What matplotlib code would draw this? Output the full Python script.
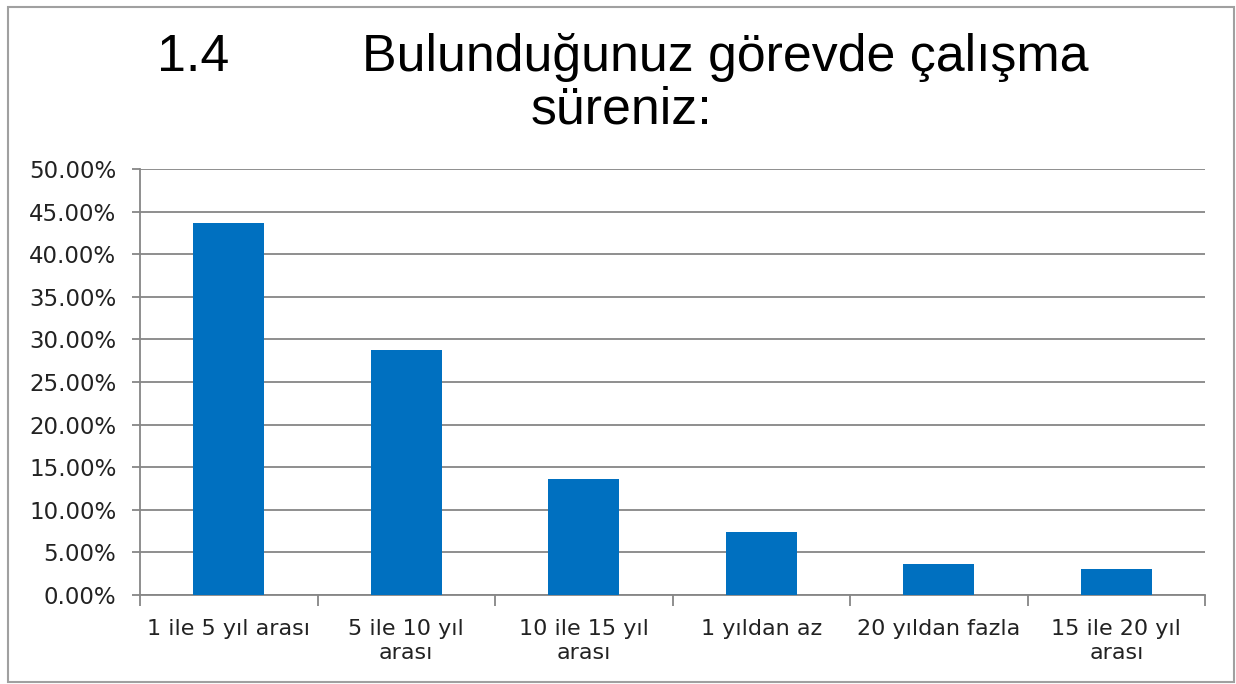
import matplotlib.pyplot as plt
from matplotlib.patches import Rectangle
from matplotlib.ticker import FuncFormatter, MultipleLocator

# data
categories = ["1 ile 5 yıl arası", "5 ile 10 yıl\narası", "10 ile 15 yıl\narası",
              "1 yıldan az", "20 yıldan fazla", "15 ile 20 yıl\narası"]
values = [43.6, 28.8, 13.6, 7.4, 3.6, 3.05]

bar_color = "#0070C0"
grid_color = "#868686"

fig = plt.figure(figsize=(12.36, 6.84), dpi=100)
ax = fig.add_axes([0.1133, 0.130, 0.8617, 0.623])

x = list(range(len(categories)))
ax.bar(x, values, width=0.4, color=bar_color, zorder=3)

ax.set_xlim(-0.5, len(categories) - 0.5)
ax.set_ylim(0, 50)
ax.yaxis.set_major_locator(MultipleLocator(5))
ax.yaxis.set_major_formatter(FuncFormatter(lambda v, p: f"{v:.2f}%"))
ax.grid(axis="y", color=grid_color, linewidth=1.3, zorder=0)

# category labels centred, tick marks at category boundaries
ax.set_xticks(x)
ax.set_xticklabels(categories, fontsize=16, linespacing=1.3)
ax.tick_params(axis="x", length=0, pad=17)
ax.set_xticks([i - 0.5 for i in range(len(categories) + 1)], minor=True)
ax.tick_params(axis="x", which="minor", length=8, color=grid_color, width=1.3)
ax.tick_params(axis="y", labelsize=16.5, length=6, color=grid_color, width=1.3, pad=11)
for lbl in ax.get_xticklabels() + ax.get_yticklabels():
    lbl.set_color("#222222")

for side in ["top", "right"]:
    ax.spines[side].set_visible(False)
for side in ["left", "bottom"]:
    ax.spines[side].set_color(grid_color)
    ax.spines[side].set_linewidth(1.3)

# title (three pieces, as laid out in the original)
tfont = dict(family="Liberation Sans", fontsize=37.4, color="black", va="baseline")
fig.text(157 / 1236, 1 - 71 / 684, "1.4", ha="left", **tfont)
fig.text(362 / 1236, 1 - 71 / 684, "Bulunduğunuz görevde çalışma", ha="left", **tfont)
fig.text(621 / 1236, 1 - 123 / 684, "süreniz:", ha="center", **tfont)

# chart area border
fig.patches.append(Rectangle((8 / 1236, 2 / 684), 1226 / 1236, 675 / 684,
                             transform=fig.transFigure, fill=False,
                             edgecolor="#A0A0A0", linewidth=1.5))

plt.savefig("out.png", dpi=100)
